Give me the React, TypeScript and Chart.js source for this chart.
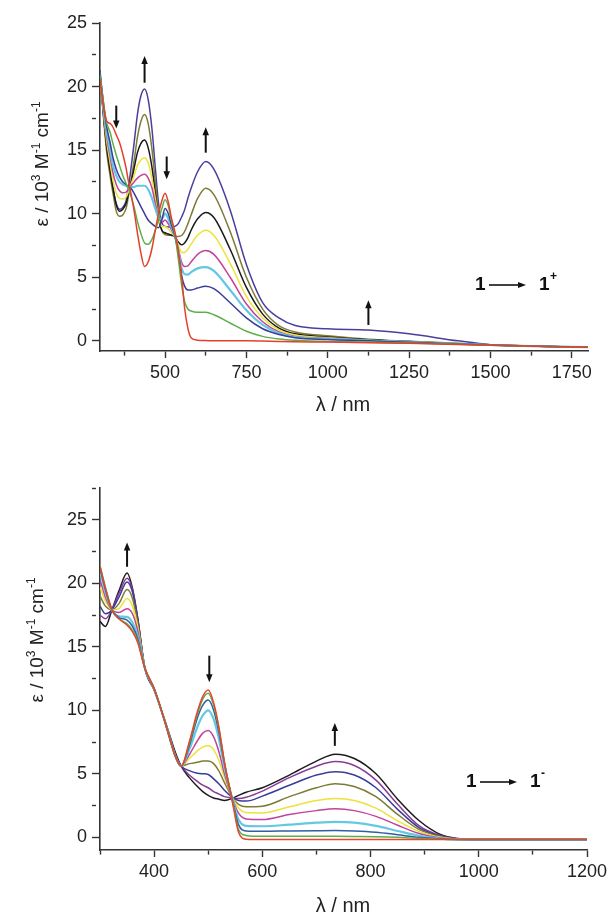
import React, { useEffect, useRef } from 'react';
import { Chart, registerables } from 'chart.js';
Chart.register(...registerables);

const FONT = '"Liberation Sans", Arial, Helvetica, sans-serif';

// ---------- Upper panel: 1 -> 1+ ----------
const lamOx = [300, 310, 320, 331, 340, 350, 360, 370, 380, 387, 395, 405, 415, 425, 437, 448, 460, 470, 480, 490, 500, 510, 520, 530, 540, 552, 560, 570, 580, 600, 625, 650, 700, 750, 800, 850, 900, 1000, 1125, 1250, 1400, 1500, 1650, 1800];
const oxRed = [20.6, 18.6, 17.3, 17.1, 16.8, 16.2, 15.6, 14.7, 13.6, 12.6, 11.6, 10.2, 8.5, 7.0, 5.85, 6.2, 7.3, 8.7, 10.0, 11.0, 11.6, 10.9, 9.6, 8.6, 7.2, 4.8, 2.6, 1.0, 0.25, 0.05, 0.02, 0.0, 0.0, 0.0, -0.02, -0.05, -0.07, -0.1, -0.15, -0.2, -0.28, -0.35, -0.43, -0.5];
const oxGreen = [20.9, 18.9, 17.2, 16.4, 15.5, 14.6, 13.8, 13.0, 12.4, 12.0, 11.4, 10.5, 9.4, 8.5, 7.7, 7.6, 8.0, 8.7, 9.5, 10.4, 11.1, 10.6, 9.4, 8.4, 6.6, 4.2, 3.1, 2.5, 2.35, 2.25, 2.25, 2.05, 1.4, 0.75, 0.35, 0.15, 0.05, -0.05, -0.1, -0.18, -0.27, -0.34, -0.43, -0.5];
const oxNavy = [21.0, 18.8, 16.9, 15.6, 14.4, 13.5, 12.9, 12.5, 12.3, 12.1, 12.0, 11.6, 11.1, 10.6, 10.0, 9.5, 9.2, 9.0, 8.9, 9.5, 10.4, 10.0, 9.1, 8.3, 7.0, 5.0, 4.3, 4.0, 4.0, 4.15, 4.3, 4.1, 3.0, 1.8, 0.95, 0.5, 0.25, 0.1, 0.0, -0.12, -0.25, -0.33, -0.43, -0.5];
const oxCyan = [21.0, 18.6, 16.6, 15.0, 13.8, 13.0, 12.5, 12.3, 12.2, 12.1, 12.1, 12.1, 12.2, 12.2, 12.2, 11.9, 11.2, 10.4, 9.7, 9.6, 10.0, 9.6, 8.9, 8.3, 7.2, 5.6, 5.25, 5.2, 5.4, 5.7, 5.8, 5.5, 4.0, 2.4, 1.25, 0.6, 0.3, 0.15, 0.02, -0.1, -0.24, -0.33, -0.43, -0.5];
const oxMagenta = [21.0, 18.4, 16.2, 14.5, 13.2, 12.3, 11.8, 11.65, 11.7, 11.9, 12.2, 12.5, 12.8, 13.0, 13.1, 12.8, 12.0, 10.8, 9.8, 9.3, 9.5, 9.2, 8.7, 8.2, 7.3, 6.1, 5.85, 5.9, 6.2, 6.8, 7.1, 6.8, 5.0, 2.9, 1.5, 0.7, 0.35, 0.2, 0.03, -0.1, -0.24, -0.33, -0.43, -0.5];
const oxYellow = [21.0, 18.2, 15.8, 14.0, 12.6, 11.6, 11.2, 11.15, 11.3, 11.7, 12.3, 13.0, 13.8, 14.2, 14.4, 14.0, 12.7, 11.2, 9.7, 9.0, 9.0, 8.8, 8.5, 8.2, 7.6, 6.95, 6.95, 7.2, 7.6, 8.3, 8.7, 8.3, 6.1, 3.5, 1.8, 0.85, 0.45, 0.25, 0.05, -0.08, -0.23, -0.33, -0.43, -0.5];
const oxBlack = [21.0, 18.0, 15.4, 13.4, 12.0, 10.7, 10.2, 10.35, 10.8, 11.5, 12.4, 13.6, 14.8, 15.5, 15.8, 15.2, 13.6, 11.6, 9.6, 8.7, 8.5, 8.4, 8.3, 8.2, 7.8, 7.55, 7.7, 8.1, 8.7, 9.6, 10.1, 9.7, 7.2, 4.2, 2.1, 1.0, 0.55, 0.3, 0.08, -0.06, -0.22, -0.32, -0.43, -0.5];
const oxOlive = [21.0, 17.8, 15.0, 13.0, 11.6, 10.2, 9.8, 9.9, 10.4, 11.3, 12.5, 14.2, 16.0, 17.2, 17.8, 17.1, 15.0, 12.5, 10.0, 8.7, 8.35, 8.3, 8.3, 8.25, 8.2, 8.3, 8.6, 9.2, 9.9, 11.2, 12.0, 11.5, 8.6, 5.0, 2.5, 1.2, 0.7, 0.4, 0.12, -0.04, -0.2, -0.31, -0.42, -0.5];
const oxPurple = [21.3, 18.0, 15.4, 13.4, 12.0, 10.8, 10.35, 10.5, 11.0, 12.0, 13.5, 15.6, 17.8, 19.2, 19.8, 19.0, 16.6, 13.6, 10.8, 9.3, 9.0, 8.95, 8.95, 9.0, 9.2, 9.8, 10.3, 11.2, 12.0, 13.3, 14.1, 13.5, 10.3, 6.0, 3.0, 1.8, 1.2, 0.95, 0.85, 0.55, 0.0, -0.3, -0.43, -0.5];
const oxColors = ['#e5402c', '#5cb04a', '#3b3d98', '#62c6e4', '#c4429a', '#eee23c', '#1a1a1a', '#7f7a36', '#4a3f9c'];
const oxXTicks = [375, 500, 625, 750, 875, 1000, 1125, 1250, 1375, 1500, 1625, 1750];
const oxXLabels = [500, 750, 1000, 1250, 1500, 1750];
const oxYTicks = [0, 2.5, 5, 7.5, 10, 12.5, 15, 17.5, 20, 22.5, 25];
const oxYLabels = [0, 5, 10, 15, 20, 25];

// ---------- Lower panel: 1 -> 1- ----------
const lamRed = [300, 310, 322, 335, 350, 360, 370, 383, 400, 420, 440, 450, 465, 480, 490, 500, 510, 520, 530, 546, 556, 570, 600, 650, 700, 735, 770, 810, 850, 890, 930, 960, 1000, 1200];
const rdRed = [21.3, 19.6, 17.9, 17.2, 16.7, 16.2, 15.3, 13.3, 11.7, 9.1, 6.3, 5.6, 7.5, 9.9, 11.1, 11.6, 10.6, 8.6, 5.9, 2.5, 0.4, -0.15, -0.18, -0.18, -0.18, -0.18, -0.18, -0.18, -0.18, -0.18, -0.18, -0.18, -0.18, -0.18];
const rdGreen = [21.4, 19.7, 17.9, 17.2, 16.8, 16.3, 15.4, 13.3, 11.7, 9.1, 6.3, 5.6, 7.4, 9.7, 10.9, 11.35, 10.4, 8.5, 5.9, 2.6, 0.6, 0.15, 0.08, 0.08, 0.08, 0.08, 0.07, 0.05, 0.0, -0.08, -0.15, -0.18, -0.18, -0.18];
const rdBlue = [21.2, 19.5, 17.9, 17.3, 17.1, 16.6, 15.6, 13.3, 11.7, 9.1, 6.3, 5.6, 7.2, 9.4, 10.4, 10.8, 10.0, 8.2, 5.8, 2.7, 1.0, 0.5, 0.47, 0.5, 0.52, 0.53, 0.5, 0.4, 0.2, 0.0, -0.12, -0.17, -0.18, -0.18];
const rdCyan = [21.0, 19.3, 17.9, 17.4, 17.35, 16.9, 15.8, 13.3, 11.7, 9.1, 6.3, 5.6, 6.9, 8.7, 9.6, 10.0, 9.3, 7.7, 5.5, 2.8, 1.4, 0.9, 0.87, 1.0, 1.15, 1.21, 1.15, 0.9, 0.5, 0.12, -0.1, -0.17, -0.18, -0.18];
const rdMagenta = [20.3, 18.9, 17.9, 17.7, 18.0, 17.6, 16.2, 13.3, 11.7, 9.1, 6.3, 5.6, 6.5, 7.6, 8.2, 8.4, 7.9, 6.7, 5.0, 2.9, 1.9, 1.45, 1.4, 1.8, 2.1, 2.24, 2.1, 1.65, 0.95, 0.3, -0.05, -0.15, -0.18, -0.18];
const rdYellow = [19.7, 18.6, 17.9, 18.0, 18.8, 18.2, 16.5, 13.3, 11.7, 9.1, 6.3, 5.6, 6.2, 6.8, 7.1, 7.2, 6.9, 6.0, 4.7, 3.0, 2.3, 1.95, 1.92, 2.4, 2.9, 3.06, 2.9, 2.3, 1.3, 0.45, 0.0, -0.14, -0.18, -0.18];
const rdOlive = [19.0, 18.2, 17.9, 18.4, 19.5, 18.8, 16.8, 13.3, 11.7, 9.1, 6.3, 5.6, 5.8, 5.9, 6.0, 6.0, 5.8, 5.2, 4.3, 3.05, 2.6, 2.4, 2.45, 3.2, 3.9, 4.22, 4.0, 3.2, 1.8, 0.6, 0.05, -0.13, -0.18, -0.18];
const rdNavy = [18.2, 17.6, 17.9, 18.9, 20.1, 19.3, 17.0, 13.3, 11.7, 9.1, 6.3, 5.6, 5.25, 5.05, 5.0, 4.95, 4.6, 4.2, 3.7, 3.1, 2.9, 2.85, 3.24, 4.1, 4.9, 5.17, 4.9, 3.9, 2.2, 0.75, 0.08, -0.12, -0.18, -0.18];
const rdPurple = [17.5, 17.2, 17.9, 19.2, 20.4, 19.5, 17.1, 13.3, 11.7, 9.1, 6.4, 5.6, 4.9, 4.4, 4.1, 3.9, 3.6, 3.4, 3.2, 3.1, 3.05, 3.15, 3.64, 4.7, 5.6, 5.96, 5.65, 4.5, 2.6, 0.9, 0.12, -0.1, -0.18, -0.18];
const rdBlack = [17.0, 16.6, 17.9, 19.4, 20.8, 19.6, 17.2, 13.3, 11.6, 9.2, 6.6, 5.6, 4.7, 4.0, 3.6, 3.3, 3.1, 3.0, 2.9, 3.1, 3.3, 3.55, 3.9, 4.9, 6.0, 6.54, 6.2, 5.0, 3.0, 1.3, 0.2, -0.1, -0.18, -0.18];
const rdColors = ['#e8452c', '#5aae4a', '#2f5fa5', '#64c8e2', '#c2419c', '#eee23a', '#7e7a36', '#3a3c9a', '#8a3a98', '#1c1c1c'];
const rdXTicks = [300, 400, 500, 600, 700, 800, 900, 1000, 1100, 1200];
const rdXLabels = [400, 600, 800, 1000, 1200];
const rdYTicks = [0, 2.5, 5, 7.5, 10, 12.5, 15, 17.5, 20, 22.5, 25, 27.5];
const rdYLabels = [0, 5, 10, 15, 20, 25];

type Seg = { t: string; size: number; dy: number; bold?: boolean };

function drawRich(ctx: CanvasRenderingContext2D, segs: Seg[], cx: number, cy: number, rotate: boolean, baseOff: number) {
  ctx.save();
  ctx.translate(cx, cy);
  if (rotate) ctx.rotate(-Math.PI / 2);
  let total = 0;
  for (const s of segs) {
    ctx.font = `${s.bold ? 'bold ' : ''}${s.size}px ${FONT}`;
    total += ctx.measureText(s.t).width;
  }
  let x = -total / 2;
  ctx.textAlign = 'left';
  ctx.textBaseline = 'alphabetic';
  ctx.fillStyle = '#222';
  for (const s of segs) {
    ctx.font = `${s.bold ? 'bold ' : ''}${s.size}px ${FONT}`;
    ctx.fillText(s.t, x, baseOff + s.dy);
    x += ctx.measureText(s.t).width;
  }
  ctx.restore();
}

function drawArrow(ctx: CanvasRenderingContext2D, x1: number, y1: number, x2: number, y2: number, lw: number, hl: number, hw: number) {
  const dx = x2 - x1, dy = y2 - y1;
  const len = Math.hypot(dx, dy);
  const ux = dx / len, uy = dy / len;
  const bx = x2 - ux * hl, by = y2 - uy * hl;
  ctx.save();
  ctx.strokeStyle = '#111';
  ctx.fillStyle = '#111';
  ctx.lineWidth = lw;
  ctx.beginPath();
  ctx.moveTo(x1, y1);
  ctx.lineTo(bx + ux, by + uy);
  ctx.stroke();
  ctx.beginPath();
  ctx.moveTo(x2, y2);
  ctx.lineTo(bx - uy * hw / 2, by + ux * hw / 2);
  ctx.lineTo(bx + uy * hw / 2, by - ux * hw / 2);
  ctx.closePath();
  ctx.fill();
  ctx.restore();
}

type Panel = {
  lam: number[];
  series: number[][];
  colors: string[];
  xMin: number; xMax: number; yMin: number; yMax: number;
  xTicks: number[]; xLabels: number[]; yTicks: number[]; yLabels: number[];
  height: number; padTop: number; padRight: number; xHeight: number;
  arrows: { x: number; from: number; to: number }[];
  yTitle: { x: number; y: number };
  xTitle: { x: number; y: number };
  tag: { x: number; base: number; arrowY: number; sup: string };
};

const yTitleSegs: Seg[] = [
  { t: 'ε / 10', size: 19, dy: 0 },
  { t: '3', size: 12, dy: -8 },
  { t: ' M', size: 19, dy: 0 },
  { t: '-1', size: 12, dy: -8 },
  { t: ' cm', size: 19, dy: 0 },
  { t: '-1', size: 12, dy: -8 },
];

function buildChart(canvas: HTMLCanvasElement, p: Panel) {
  const datasets = p.series.map((vals, k) => ({
    data: p.lam.map((x, i) => ({ x, y: vals[i] })),
    borderColor: p.colors[k],
    borderWidth: p.colors[k] === '#62c6e4' || p.colors[k] === '#64c8e2' ? 2.2 : 1.5,
    pointRadius: 0,
    cubicInterpolationMode: 'monotone' as const,
    fill: false,
  }));

  const annot = {
    id: 'annot',
    afterDraw(chart: any) {
      const ctx: CanvasRenderingContext2D = chart.ctx;
      const xs = chart.scales.x, ys = chart.scales.y;
      for (const a of p.arrows) {
        const x = xs.getPixelForValue(a.x);
        drawArrow(ctx, x, ys.getPixelForValue(a.from), x, ys.getPixelForValue(a.to), 2, 8, 6.5);
      }
      drawRich(ctx, yTitleSegs, p.yTitle.x, p.yTitle.y, true, 7);
      drawRich(ctx, [{ t: 'λ / nm', size: 20, dy: 0 }], p.xTitle.x, p.xTitle.y, false, 0);
      ctx.save();
      ctx.fillStyle = '#111';
      ctx.textBaseline = 'alphabetic';
      ctx.textAlign = 'left';
      ctx.font = `bold 19px ${FONT}`;
      ctx.fillText('1', p.tag.x, p.tag.base);
      drawArrow(ctx, p.tag.x + 14, p.tag.arrowY, p.tag.x + 51, p.tag.arrowY, 1.6, 8, 6);
      ctx.fillText('1', p.tag.x + 64, p.tag.base);
      ctx.font = `bold 12px ${FONT}`;
      ctx.fillText(p.tag.sup, p.tag.x + 75, p.tag.base - 10);
      ctx.restore();
    },
  };

  const tickDash = (majors: number[]) => (c: any) =>
    c.tick && majors.includes(c.tick.value) ? [] : [4, 40];

  return new Chart(canvas, {
    type: 'line',
    data: { datasets },
    options: {
      animation: false,
      responsive: false,
      devicePixelRatio: 1,
      events: [],
      layout: { padding: { top: p.padTop, right: p.padRight, bottom: 0, left: 0 } },
      plugins: { legend: { display: false }, tooltip: { enabled: false } },
      scales: {
        x: {
          type: 'linear',
          min: p.xMin,
          max: p.xMax,
          afterBuildTicks: (sc: any) => { sc.ticks = p.xTicks.map((v) => ({ value: v })); },
          afterFit: (sc: any) => { sc.height = p.xHeight; },
          ticks: {
            autoSkip: false,
            maxRotation: 0,
            minRotation: 0,
            padding: 4,
            color: '#222',
            font: { family: FONT, size: 18 },
            callback: (v: any) => (p.xLabels.includes(Number(v)) ? String(v) : ''),
          },
          grid: {
            drawOnChartArea: false,
            drawTicks: true,
            tickLength: 7,
            tickWidth: 1.4,
            tickColor: '#333',
            tickBorderDash: tickDash(p.xLabels),
          },
          border: { display: true, color: '#333', width: 1.6 },
        },
        y: {
          type: 'linear',
          min: p.yMin,
          max: p.yMax,
          afterBuildTicks: (sc: any) => { sc.ticks = p.yTicks.map((v) => ({ value: v })); },
          afterFit: (sc: any) => { sc.width = 100; },
          ticks: {
            autoSkip: false,
            padding: 5,
            color: '#222',
            font: { family: FONT, size: 18 },
            callback: (v: any) => (p.yLabels.includes(Number(v)) ? String(v) : ''),
          },
          grid: {
            drawOnChartArea: false,
            drawTicks: true,
            tickLength: 8,
            tickWidth: 1.4,
            tickColor: '#333',
            tickBorderDash: tickDash(p.yLabels),
          },
          border: { display: true, color: '#333', width: 1.6 },
        },
      },
    } as any,
    plugins: [annot],
  });
}

const topPanel: Panel = {
  lam: lamOx,
  series: [oxRed, oxGreen, oxNavy, oxCyan, oxMagenta, oxYellow, oxBlack, oxOlive, oxPurple],
  colors: oxColors,
  xMin: 300, xMax: 1800, yMin: -0.8, yMax: 25,
  xTicks: oxXTicks, xLabels: oxXLabels, yTicks: oxYTicks, yLabels: oxYLabels,
  height: 440, padTop: 23, padRight: 27, xHeight: 89,
  arrows: [
    { x: 350, from: 18.5, to: 16.7 },
    { x: 437, from: 20.3, to: 22.4 },
    { x: 505, from: 14.5, to: 12.7 },
    { x: 625, from: 14.8, to: 16.8 },
    { x: 1125, from: 1.25, to: 3.2 },
  ],
  yTitle: { x: 41, y: 164 },
  xTitle: { x: 343, y: 411 },
  tag: { x: 475, base: 290, arrowY: 285, sup: '+' },
};

const botPanel: Panel = {
  lam: lamRed,
  series: [rdRed, rdGreen, rdBlue, rdCyan, rdMagenta, rdYellow, rdOlive, rdNavy, rdPurple, rdBlack],
  colors: rdColors,
  xMin: 300, xMax: 1200, yMin: -1, yMax: 27.5,
  xTicks: rdXTicks, xLabels: rdXLabels, yTicks: rdYTicks, yLabels: rdYLabels,
  height: 474, padTop: 48, padRight: 28, xHeight: 64,
  arrows: [
    { x: 350, from: 21.3, to: 23.2 },
    { x: 502, from: 14.3, to: 12.2 },
    { x: 734, from: 7.2, to: 9.0 },
  ],
  yTitle: { x: 36, y: 200 },
  xTitle: { x: 343, y: 472 },
  tag: { x: 466, base: 347, arrowY: 342, sup: '-' },
};

export default function App() {
  const topRef = useRef<HTMLCanvasElement | null>(null);
  const botRef = useRef<HTMLCanvasElement | null>(null);
  useEffect(() => {
    const c1 = buildChart(topRef.current!, topPanel);
    const c2 = buildChart(botRef.current!, botPanel);
    return () => { c1.destroy(); c2.destroy(); };
  }, []);
  return (
    <div style={{ position: 'absolute', left: 0, top: 0, width: 615, height: 914, background: '#fff', overflow: 'hidden' }}>
      <canvas ref={topRef} width={615} height={440} style={{ position: 'absolute', left: 0, top: 0, width: 615, height: 440 }} />
      <canvas ref={botRef} width={615} height={474} style={{ position: 'absolute', left: 0, top: 440, width: 615, height: 474 }} />
    </div>
  );
}
